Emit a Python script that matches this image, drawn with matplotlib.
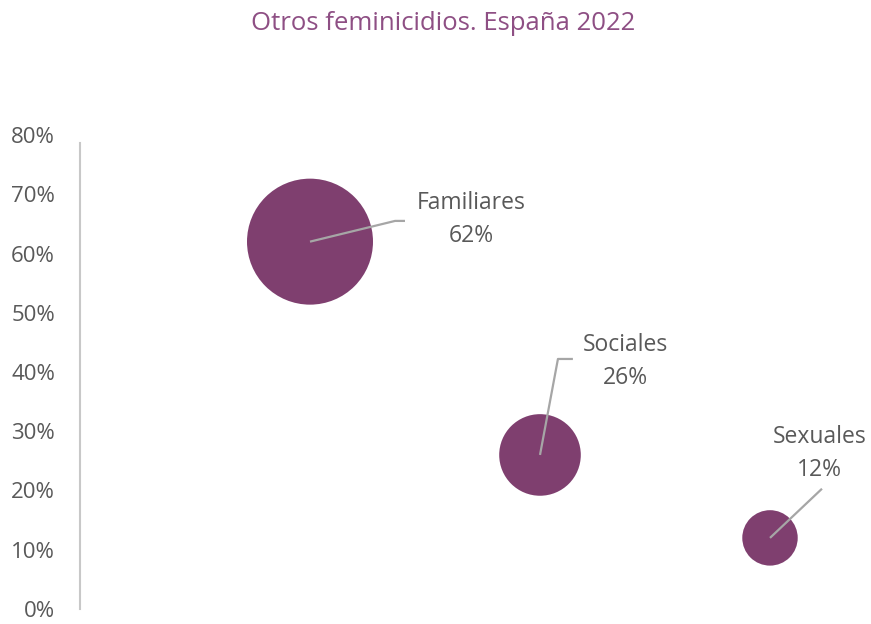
import matplotlib
matplotlib.use("Agg")
from matplotlib import pyplot as plt
from matplotlib.ticker import PercentFormatter

plt.rcParams['font.family'] = ['Open Sans', 'DejaVu Sans']

categorias = ['Familiares', 'Sociales', 'Sexuales']
valores = [0.62, 0.26, 0.12]
posiciones = [1, 2, 3]

# etiquetas: codo de la línea guía, fin de la línea, centro del texto (desplazamientos)
codos = [(0.37, 0.035), (0.078, 0.162), None]
finales = [(0.413, 0.035), (0.143, 0.162), (0.226, 0.083)]
textos = [(0.70, 0.037), (0.37, 0.157), (0.217, 0.143)]

morado = '#7F3F6F'
gris = '#595959'

fig = plt.figure(figsize=(8.71, 6.24), dpi=100)
ax = fig.add_axes([80 / 871, 15 / 624, 790 / 871, 474 / 624])

# tamaño de burbuja proporcional al valor (diámetro 126 px para 62%)
escala = (126 * 0.72) ** 2 / 0.62
tamanos = [v * escala for v in valores]
ax.scatter(posiciones, valores, s=tamanos, color=morado, edgecolors='none', zorder=2)

for i, cat in enumerate(categorias):
    x, y = posiciones[i], valores[i]
    xs = [x]
    ys = [y]
    if codos[i] is not None:
        xs.append(x + codos[i][0])
        ys.append(y + codos[i][1])
    xs.append(x + finales[i][0])
    ys.append(y + finales[i][1])
    ax.plot(xs, ys, color='#A6A6A6', lw=1.6, zorder=3, solid_capstyle='butt')
    ax.text(x + textos[i][0], y + textos[i][1],
            '{}\n{:.0%}'.format(cat, valores[i]),
            ha='center', va='center', fontsize=16.5, color=gris, linespacing=1.5)

ax.set_xlim(0, 790 / 230)
ax.set_ylim(0, 0.8)
ax.set_yticks([i / 10 for i in range(9)])
ax.yaxis.set_major_formatter(PercentFormatter(1.0, decimals=0))
ax.set_xticks([])
ax.tick_params(axis='y', length=0, labelsize=16, labelcolor=gris, pad=18)
for lado in ['top', 'right', 'bottom']:
    ax.spines[lado].set_visible(False)
ax.spines['left'].set_color('#C8C8C8')
ax.spines['left'].set_linewidth(1.5)
ax.spines['left'].set_bounds(0, 0.787)

fig.text(443 / 871, 1 - 24 / 624, 'Otros feminicidios. España 2022',
         ha='center', va='center', fontsize=18.5, color='#8E4F84')

fig.savefig('out.png', dpi=100)
